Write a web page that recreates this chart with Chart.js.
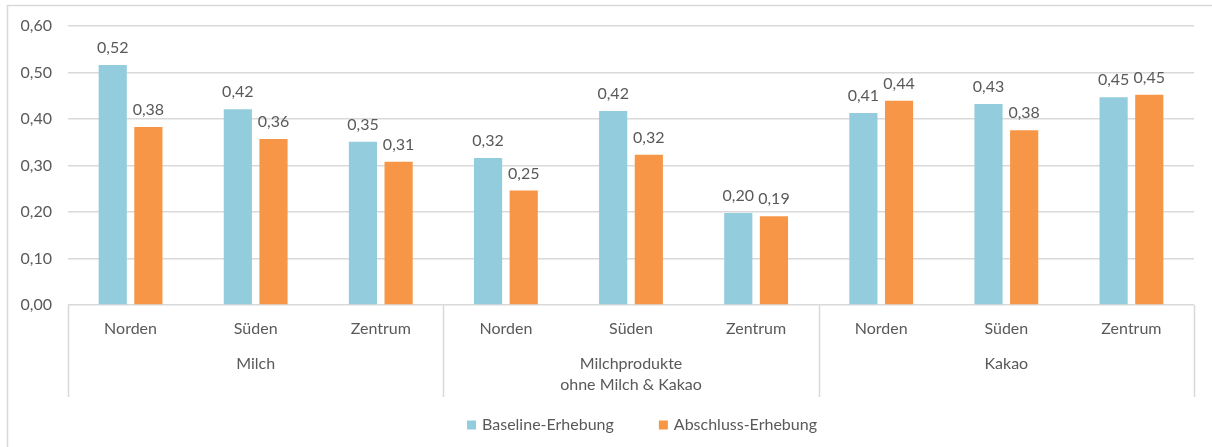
<!DOCTYPE html>
<html lang="de">
<head>
<meta charset="utf-8">
<title>Baseline- vs. Abschluss-Erhebung</title>
<script src="https://cdn.jsdelivr.net/npm/chart.js@4.4.1/dist/chart.umd.min.js"></script>
<style>
  html, body { margin: 0; padding: 0; background: #ffffff; }
  #wrap { position: relative; width: 1212px; height: 447px; }
</style>
</head>
<body>
<div id="wrap"><canvas id="chart" width="1212" height="447"></canvas></div>
<script>
// Regions within each product group
const regions = ['Norden', 'Süden', 'Zentrum'];
// Product groups (second axis level); multi-line names as arrays
const groups = [['Milch'], ['Milchprodukte', 'ohne Milch & Kakao'], ['Kakao']];
// Flat category list: group x region
const categories = ['Norden', 'Süden', 'Zentrum', 'Norden', 'Süden', 'Zentrum', 'Norden', 'Süden', 'Zentrum'];
// Survey values per category
const baseline = [0.516, 0.421, 0.351, 0.316, 0.417, 0.198, 0.413, 0.432, 0.447];
const abschluss = [0.383, 0.357, 0.308, 0.246, 0.323, 0.191, 0.439, 0.376, 0.452];
const seriesNames = ['Baseline-Erhebung', 'Abschluss-Erhebung'];
// Value axis ticks
const yTicks = [0, 0.1, 0.2, 0.3, 0.4, 0.5, 0.6];

const FONT = 'Lato, "Open Sans", sans-serif';
const FSIZE = 16;
const TEXT = '#595959';
const GRID = '#d9d9d9';
const fmt = v => v.toFixed(2).replace('.', ',');

// Draws the frame, two-level category axis, value labels and legend
const decorations = {
  id: 'decorations',
  afterDatasetsDraw(chart) {
    const ctx = chart.ctx;
    const xs = chart.scales.x;
    const area = chart.chartArea;
    ctx.save();

    // outer frame (top and left edges)
    ctx.strokeStyle = GRID;
    ctx.lineWidth = 1.5;
    ctx.beginPath();
    ctx.moveTo(7.5, 447);
    ctx.lineTo(7.5, 5.5);
    ctx.lineTo(1212, 5.5);
    ctx.stroke();

    // value labels above bars
    ctx.fillStyle = TEXT;
    ctx.font = FSIZE + 'px ' + FONT;
    ctx.textAlign = 'center';
    ctx.textBaseline = 'alphabetic';
    chart.data.datasets.forEach((ds, di) => {
      const meta = chart.getDatasetMeta(di);
      meta.data.forEach((bar, i) => {
        ctx.fillText(fmt(ds.data[i]), bar.x, bar.y - 12);
      });
    });

    // category axis: region labels
    ctx.textBaseline = 'middle';
    categories.forEach((c, i) => {
      ctx.fillText(c, xs.getPixelForValue(i), 329);
    });

    // group labels and separators
    const n = regions.length;
    const bounds = [area.left];
    groups.forEach((g, gi) => {
      const first = xs.getPixelForValue(gi * n);
      const last = xs.getPixelForValue(gi * n + n - 1);
      const cx = (first + last) / 2;
      g.forEach((line, li) => ctx.fillText(line, cx, 364 + li * 21));
      if (gi < groups.length - 1) {
        bounds.push((last + xs.getPixelForValue(gi * n + n)) / 2);
      }
    });
    bounds.push(area.right);
    ctx.strokeStyle = GRID;
    ctx.lineWidth = 1.5;
    bounds.forEach(bx => {
      const px = Math.round(bx) + 0.5;
      ctx.beginPath();
      ctx.moveTo(px, area.bottom);
      ctx.lineTo(px, 397);
      ctx.stroke();
    });

    // legend
    ctx.font = FSIZE + 'px ' + FONT;
    ctx.textAlign = 'left';
    const box = 9, boxGap = 6, itemGap = 45;
    const widths = chart.data.datasets.map(ds => box + boxGap + ctx.measureText(ds.label).width);
    const total = widths.reduce((a, b) => a + b, 0) + itemGap * (widths.length - 1);
    let lx = 642 - total / 2;
    const ly = 425;
    chart.data.datasets.forEach((ds, di) => {
      ctx.fillStyle = ds.backgroundColor;
      ctx.fillRect(lx, ly - box / 2, box, box);
      ctx.fillStyle = TEXT;
      ctx.fillText(ds.label, lx + box + boxGap, ly);
      lx += widths[di] + itemGap;
    });

    ctx.restore();
  }
};

new Chart(document.getElementById('chart'), {
  type: 'bar',
  data: {
    labels: categories,
    datasets: [
      { label: seriesNames[0], data: baseline, backgroundColor: '#93cddd', borderWidth: 0 },
      { label: seriesNames[1], data: abschluss, backgroundColor: '#f79646', borderWidth: 0 }
    ]
  },
  options: {
    responsive: false,
    animation: false,
    layout: { padding: { left: 0, top: 26, right: 18, bottom: 0 } },
    datasets: { bar: { categoryPercentage: 0.57, barPercentage: 0.79 } },
    plugins: { legend: { display: false }, tooltip: { enabled: false } },
    scales: {
      x: {
        grid: { display: false },
        border: { display: false },
        ticks: { display: false },
        afterFit: s => { s.height = 142; }
      },
      y: {
        min: 0,
        max: 0.6,
        afterBuildTicks: s => { s.ticks = yTicks.map(v => ({ value: v })); },
        grid: { color: GRID, lineWidth: 1.5, drawTicks: false },
        border: { display: false },
        ticks: {
          color: TEXT,
          font: { family: FONT, size: FSIZE },
          padding: 16,
          callback: v => fmt(v)
        },
        afterFit: s => { s.width = 68; }
      }
    }
  },
  plugins: [decorations]
});
</script>
</body>
</html>
